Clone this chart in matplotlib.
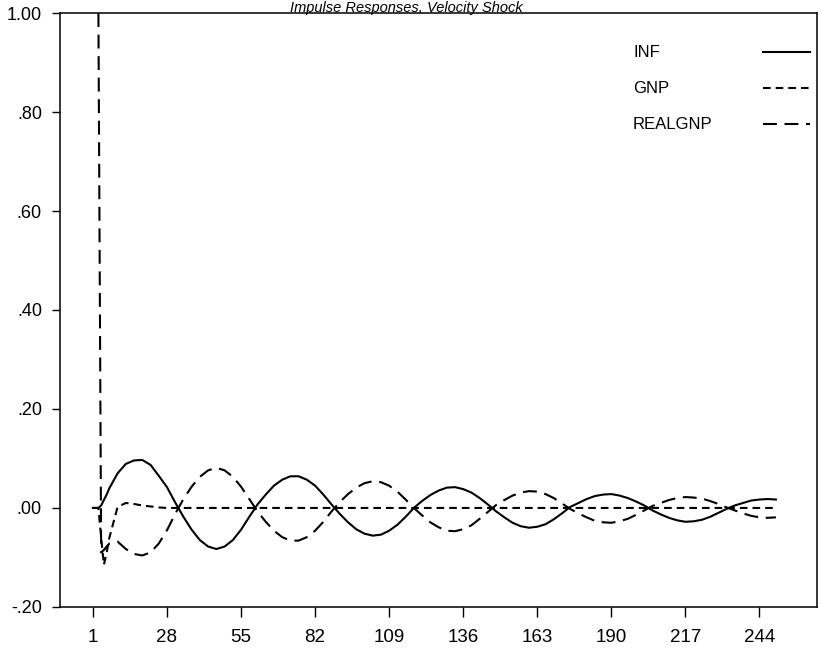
import matplotlib
matplotlib.use("Agg")
import matplotlib.pyplot as plt

nan = float("nan")

# impulse responses to a velocity shock, by period
period = [1, 2, 3, 4, 5, 6, 7,
          10, 13, 16, 19, 22, 25, 28, 31,
          34, 37, 40, 43, 46, 49, 52, 55, 58,
          61, 64, 67, 70, 73, 76, 79, 82, 85, 88,
          91, 94, 97, 100, 103, 106, 109, 112, 115,
          118, 121, 124, 127, 130, 133, 136, 139, 142, 145,
          148, 151, 154, 157, 160, 163, 166, 169, 172,
          175, 178, 181, 184, 187, 190, 193, 196, 199, 202,
          205, 208, 211, 214, 217, 220, 223, 226, 229, 232,
          235, 238, 241, 244, 247, 250]

inf = [0.0, 0.0, 0.0, 0.005, 0.016, 0.027, 0.040,
       0.070, 0.089, 0.096, 0.097, 0.087, 0.065, 0.042, 0.011,
       -0.018, -0.044, -0.065, -0.078, -0.083, -0.078, -0.065, -0.044, -0.018,
       0.007, 0.027, 0.045, 0.057, 0.064, 0.064, 0.057, 0.045, 0.027, 0.007,
       -0.012, -0.029, -0.043, -0.052, -0.056, -0.054, -0.046, -0.034, -0.018,
       0.0, 0.014, 0.026, 0.035, 0.041, 0.042, 0.038, 0.031, 0.020, 0.007,
       -0.007, -0.019, -0.030, -0.037, -0.040, -0.038, -0.033, -0.023, -0.011,
       0.002, 0.010, 0.018, 0.024, 0.027, 0.028, 0.025, 0.020, 0.013, 0.005,
       -0.005, -0.013, -0.020, -0.025, -0.028, -0.027, -0.024, -0.018, -0.010, -0.002,
       0.005, 0.010, 0.015, 0.017, 0.018, 0.017]

gnp = [0.0, 0.0, 0.0, -0.060, -0.115, -0.090, -0.060,
       0.002, 0.010, 0.008, 0.005, 0.003, 0.001, 0.0, 0.0,
       0.0, 0.0, 0.0, 0.0, 0.0, 0.0, 0.0, 0.0, 0.0,
       0.0, 0.0, 0.0, 0.0, 0.0, 0.0, 0.0, 0.0, 0.0, 0.0,
       0.0, 0.0, 0.0, 0.0, 0.0, 0.0, 0.0, 0.0, 0.0,
       0.0, 0.0, 0.0, 0.0, 0.0, 0.0, 0.0, 0.0, 0.0, 0.0,
       0.0, 0.0, 0.0, 0.0, 0.0, 0.0, 0.0, 0.0, 0.0,
       0.0, 0.0, 0.0, 0.0, 0.0, 0.0, 0.0, 0.0, 0.0, 0.0,
       0.0, 0.0, 0.0, 0.0, 0.0, 0.0, 0.0, 0.0, 0.0, 0.0,
       0.0, 0.0, 0.0, 0.0, 0.0, 0.0]

# REALGNP starts with the unit shock in period 3
realgnp = [nan, nan, 1.0, -0.090, -0.085, -0.078, -0.072,
           -0.068, -0.083, -0.093, -0.096, -0.090, -0.072, -0.045, -0.012,
           0.018, 0.043, 0.063, 0.076, 0.081, 0.076, 0.063, 0.043, 0.018,
           -0.007, -0.028, -0.046, -0.059, -0.066, -0.066, -0.059, -0.046, -0.028, -0.007,
           0.012, 0.028, 0.041, 0.050, 0.054, 0.052, 0.045, 0.033, 0.017,
           0.0, -0.015, -0.029, -0.039, -0.046, -0.047, -0.043, -0.035, -0.022, -0.008,
           0.006, 0.016, 0.025, 0.031, 0.034, 0.033, 0.028, 0.020, 0.009,
           -0.002, -0.011, -0.019, -0.026, -0.029, -0.030, -0.027, -0.022, -0.014, -0.005,
           0.004, 0.010, 0.016, 0.020, 0.022, 0.021, 0.019, 0.014, 0.008, 0.001,
           -0.005, -0.011, -0.016, -0.019, -0.020, -0.019]

series_names = ["INF", "GNP", "REALGNP"]
x_ticks = [1, 28, 55, 82, 109, 136, 163, 190, 217, 244]
y_ticks = [-0.20, 0.00, 0.20, 0.40, 0.60, 0.80, 1.00]
y_tick_labels = ["-.20", ".00", ".20", ".40", ".60", ".80", "1.00"]

plt.rcParams["font.family"] = ["Liberation Sans", "DejaVu Sans"]
plt.rcParams["lines.scale_dashes"] = False

styles = [
    dict(linestyle="-"),
    dict(linestyle=(0, (5.5, 3.6))),
    dict(linestyle=(0, (10, 5.5))),
]

fig = plt.figure(figsize=(8.22, 6.54), dpi=100)
ax = fig.add_axes([0.073, 0.072, 0.921, 0.908])

for values, st in zip([inf, gnp, realgnp], styles):
    ax.plot(period, values, color="black", linewidth=1.5, **st)

ax.set_xlim(-11, 265)
ax.set_ylim(-0.20, 1.00)
ax.set_xticks(x_ticks)
ax.set_xticklabels([str(v) for v in x_ticks], fontsize=13.5)
ax.set_yticks(y_ticks)
ax.set_yticklabels(y_tick_labels, fontsize=13)
ax.tick_params(axis="x", direction="out", length=7, width=1.0, pad=9)
ax.tick_params(axis="y", direction="out", length=6, width=1.0, pad=7)
for side in ["left", "right", "top", "bottom"]:
    ax.spines[side].set_linewidth(1.1)
    ax.spines[side].set_color("black")

# key in the upper right: name on the left, line sample on the right
key_y = [0.934, 0.873, 0.813]
for name, st, yk in zip(series_names, styles, key_y):
    ax.text(0.757, yk, name, transform=ax.transAxes, fontsize=12,
            va="center", ha="left")
    ax.plot([0.929, 0.991], [yk, yk], transform=ax.transAxes,
            color="black", linewidth=1.5, clip_on=False, **st)

fig.text(0.494, 0.999, "Impulse Responses, Velocity Shock", fontsize=10.5,
         style="italic", ha="center", va="top")

fig.savefig("out.png", dpi=100)
